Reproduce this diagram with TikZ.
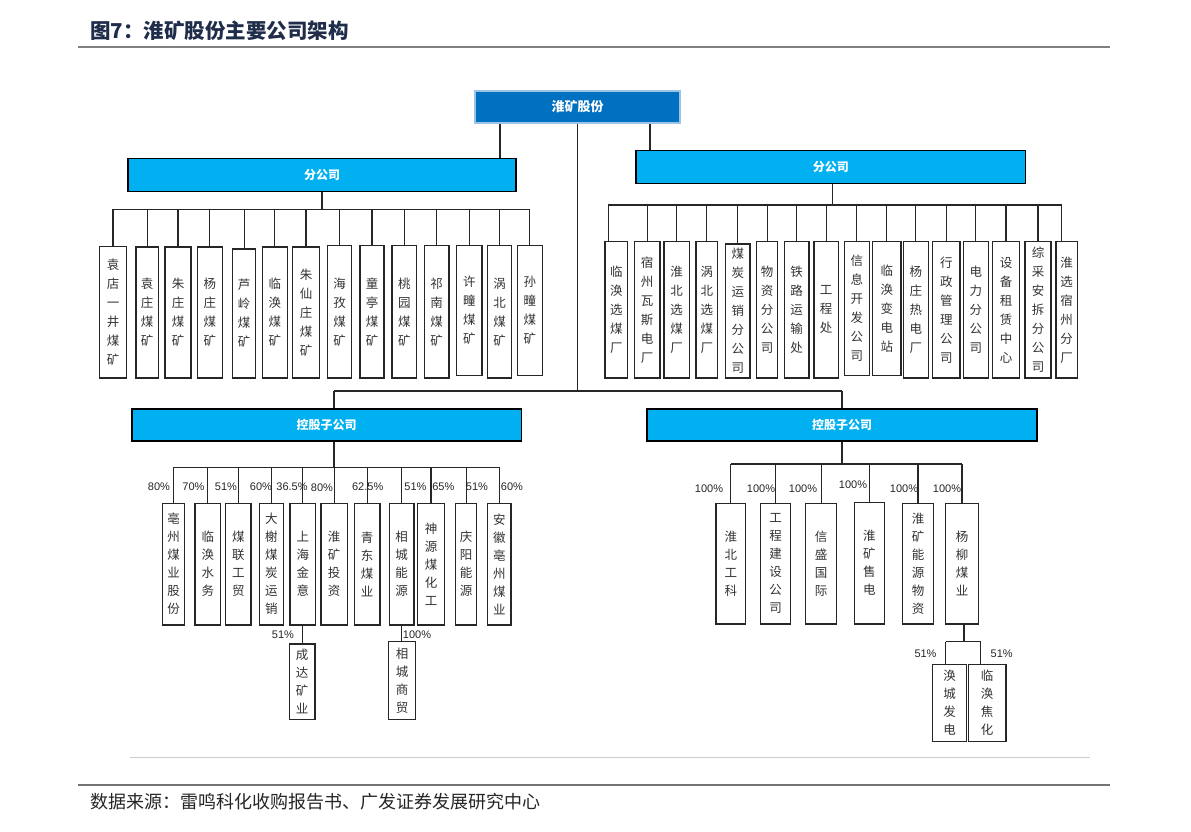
\documentclass[tikz,border=0pt]{standalone}
\usepackage{fontspec}
\setmainfont{Noto Sans CJK SC}
\newfontfamily\pctfont{Liberation Sans}
\definecolor{cyanbox}{HTML}{00B0F0}
\definecolor{topblue}{HTML}{0070C0}
\definecolor{topedge}{HTML}{9DC3E6}
\definecolor{titleblue}{HTML}{1F2D4A}
\tikzset{
  conn/.style={draw=black!85, line width=1.2pt},
  wbox/.style={draw=black!85, line width=1.3pt, fill=white, inner sep=0pt, align=center,
    font=\fontsize{12.5}{19}\selectfont, text=black!80},
  kbox/.style={wbox, font=\fontsize{12.5}{18}\selectfont},
  bbox/.style={draw=black, line width=1.2pt, fill=cyanbox, inner sep=0pt,
    font=\bfseries\fontsize{12}{14}\selectfont, text=white},
  topbox/.style={draw=topedge, line width=1.2pt, fill=topblue, inner sep=0pt,
    font=\bfseries\fontsize{13}{15}\selectfont, text=white},
  pct/.style={font=\pctfont\fontsize{11}{12}\selectfont, inner sep=0pt, text=black!85},
}
\newcommand\bx[7][wbox]{\node[#1, minimum width={(#4-#3)*1pt}, minimum height={(#6-#5)*1pt}] (#2) at ({(#3+#4)/2},{(#5+#6)/2}) {#7};}
\begin{document}
\begin{tikzpicture}[x=1pt,y=-1pt]
\useasboundingbox[fill=white] (0,0) rectangle (1191,832);

% title
\node[anchor=west, inner sep=0pt, text=titleblue, font=\bfseries\fontsize{20.5}{22}\selectfont] (title) at (90,31) {图7：淮矿股份主要公司架构};
\coordinate (tl1) at (78,47); \coordinate (tl2) at (1110,47);
\draw[draw=black!50, line width=2pt] (tl1) -- (tl2);

% top-level boxes
\bx[topbox]{top}{475}{680}{91}{123}{淮矿股份}
\bx[bbox]{fgL}{128}{516}{158.3}{191.7}{分公司}
\bx[bbox]{fgR}{636}{1025.7}{150.7}{183.3}{分公司}
\bx[bbox]{kzL}{132}{521.4}{409}{441}{控股子公司}
\bx[bbox]{kzR}{647}{1037}{409}{441}{控股子公司}

% left branch offices
\bx{a1}{99.3}{126.7}{246.7}{378}{袁\\店\\一\\井\\煤\\矿}
\bx{a2}{136}{158.3}{247}{378}{袁\\庄\\煤\\矿}
\bx{a3}{165}{191}{247}{378}{朱\\庄\\煤\\矿}
\bx{a4}{197.3}{222.3}{247}{378}{杨\\庄\\煤\\矿}
\bx{a5}{232.7}{255.7}{249}{378}{芦\\岭\\煤\\矿}
\bx{a6}{262.3}{287.3}{247}{378}{临\\涣\\煤\\矿}
\bx{a7}{292.7}{319.3}{247}{378}{朱\\仙\\庄\\煤\\矿}
\bx{a8}{327.7}{351.7}{245.7}{378}{海\\孜\\煤\\矿}
\bx{a9}{360}{384}{245.7}{378}{童\\亭\\煤\\矿}
\bx{a10}{392}{416.7}{245.7}{378}{桃\\园\\煤\\矿}
\bx{a11}{424.3}{449}{245.7}{378}{祁\\南\\煤\\矿}
\bx{a12}{456.7}{482}{245.7}{375.7}{许\\疃\\煤\\矿}
\bx{a13}{487.3}{511.7}{245.7}{378}{涡\\北\\煤\\矿}
\bx{a14}{517.3}{542.3}{245.7}{375.7}{孙\\疃\\煤\\矿}

% right branch offices
\bx{b1}{605}{627.7}{241.7}{378}{临\\涣\\选\\煤\\厂}
\bx{b2}{634.3}{660}{241.7}{378}{宿\\州\\瓦\\斯\\电\\厂}
\bx{b3}{664}{689.3}{241.7}{378}{淮\\北\\选\\煤\\厂}
\bx{b4}{696}{717.7}{241.7}{378}{涡\\北\\选\\煤\\厂}
\bx{b5}{725.7}{750}{244}{378}{煤\\炭\\运\\销\\分\\公\\司}
\bx{b6}{756.7}{777.7}{241.7}{378}{物\\资\\分\\公\\司}
\bx{b7}{784.3}{809}{241.7}{378}{铁\\路\\运\\输\\处}
\bx{b8}{814}{838.3}{241.7}{378}{工\\程\\处}
\bx{b9}{844.3}{869.3}{241.7}{375.7}{信\\息\\开\\发\\公\\司}
\bx{b10}{872.7}{901}{241.7}{375.7}{临\\涣\\变\\电\\站}
\bx{b11}{903.3}{928.3}{241.7}{378}{杨\\庄\\热\\电\\厂}
\bx{b12}{932.7}{960}{241.7}{378}{行\\政\\管\\理\\公\\司}
\bx{b13}{963.3}{988.3}{241.7}{378}{电\\力\\分\\公\\司}
\bx{b14}{992.7}{1019.3}{241.7}{378}{设\\备\\租\\赁\\中\\心}
\bx{b15}{1025}{1051}{241.7}{378}{综\\采\\安\\拆\\分\\公\\司}
\bx{b16}{1056}{1077.3}{241.7}{378}{淮\\选\\宿\\州\\分\\厂}

% left holding subsidiaries
\bx[kbox]{c1}{162.7}{184.3}{503.3}{625}{亳\\州\\煤\\业\\股\\份}
\bx[kbox]{c2}{195}{220.7}{503.3}{625}{临\\涣\\水\\务}
\bx[kbox]{c3}{225.7}{251}{503.3}{625}{煤\\联\\工\\贸}
\bx[kbox]{c4}{259.3}{283.3}{503.3}{625}{大\\榭\\煤\\炭\\运\\销}
\bx[kbox]{c5}{290}{315.7}{503.3}{625}{上\\海\\金\\意}
\bx[kbox]{c6}{321}{347.3}{503.3}{625}{淮\\矿\\投\\资}
\bx[kbox]{c7}{354.3}{380}{503.3}{625}{青\\东\\煤\\业}
\bx[kbox]{c8}{389.3}{414}{503.3}{625}{相\\城\\能\\源}
\bx[kbox]{c9}{417.7}{444.3}{503.3}{625}{神\\源\\煤\\化\\工}
\bx[kbox]{c10}{455.7}{476.7}{503.3}{625}{庆\\阳\\能\\源}
\bx[kbox]{c11}{487.7}{511}{503.3}{625}{安\\徽\\亳\\州\\煤\\业}
\bx[kbox]{d1}{289.3}{315}{644}{719.3}{成\\达\\矿\\业}
\bx[kbox]{d2}{388.3}{415.7}{641.7}{719.3}{相\\城\\商\\贸}

% right holding subsidiaries
\bx[kbox]{e1}{716}{745.7}{503.3}{624}{淮\\北\\工\\科}
\bx[kbox]{e2}{760.7}{790.7}{503.3}{624}{工\\程\\建\\设\\公\\司}
\bx[kbox]{e3}{805.7}{836.7}{503.3}{624}{信\\盛\\国\\际}
\bx[kbox]{e4}{854.3}{884.3}{502.3}{624}{淮\\矿\\售\\电}
\bx[kbox]{e5}{902.7}{933.3}{503.3}{624}{淮\\矿\\能\\源\\物\\资}
\bx[kbox]{e6}{945.7}{978.3}{503.3}{624}{杨\\柳\\煤\\业}
\bx[kbox]{f1}{932.7}{966.7}{664.3}{741.7}{涣\\城\\发\\电}
\bx[kbox]{f2}{968.3}{1006}{664.3}{741.7}{临\\涣\\焦\\化}

% connectors: top level
\coordinate (hL) at (334,391);
\coordinate (hR) at (842,391);
\draw[conn] ([xshift=-77.5pt]top.south) -- ([xshift=-77.5pt]top.south |- fgL.north);
\draw[conn] ([xshift=72.5pt]top.south) -- ([xshift=72.5pt]top.south |- fgR.north);
\draw[conn] (top.south) -- (top.south |- hL);
\draw[conn] (hL) -- (hR);
\draw[conn] (hL) -- (hL |- kzL.north);
\draw[conn] (hR) -- (hR |- kzR.north);

% left branch office bus
\coordinate (busA) at (0,209.3);
\draw[conn] (fgL.south) -- (fgL.south |- busA);
\draw[conn] (a1.north |- busA) -- (a14.north |- busA);
\foreach \n in {a1,a2,a3,a4,a5,a6,a7,a8,a9,a10,a11,a12,a13,a14}
  \draw[conn] (\n.north |- busA) -- (\n.north);

% right branch office bus
\coordinate (busB) at (0,205);
\draw[conn] ([xshift=1.8pt]fgR.south) -- ([xshift=1.8pt]fgR.south |- busB);
\draw[conn] ([xshift=-8pt]b1.north |- busB) -- ([xshift=-5pt]b16.north |- busB);
\draw[conn] ([xshift=-8pt]b1.north |- busB) -- ([xshift=-8pt]b1.north);
\draw[conn] ([xshift=-5pt]b16.north |- busB) -- ([xshift=-5pt]b16.north);
\foreach \n in {b2,b3,b4,b5,b6,b7,b8,b9,b10,b11,b12,b13,b14,b15}
  \draw[conn] (\n.north |- busB) -- (\n.north);

% left holding bus
\coordinate (busC) at (0,467.3);
\draw[conn] (hL |- kzL.south) -- (hL |- busC);
\draw[conn] (c1.north |- busC) -- (c11.north |- busC);
\foreach \n in {c1,c2,c3,c4,c5,c6,c7,c8,c9,c10,c11}
  \draw[conn] (\n.north |- busC) -- (\n.north);
\draw[conn] (c5.south) -- (c5.south |- d1.north);
\draw[conn] (c8.south) -- (c8.south |- d2.north);

% right holding bus
\coordinate (busD) at (0,464);
\draw[conn] (hR |- kzR.south) -- (hR |- busD);
\draw[conn] (e1.north |- busD) -- (e6.north |- busD);
\foreach \n in {e1,e2,e3,e4,e5,e6}
  \draw[conn] (\n.north |- busD) -- (\n.north);
\coordinate (busE) at (0,641.7);
\draw[conn] ([xshift=2pt]e6.south) -- ([xshift=2pt]e6.south |- busE);
\draw[conn] ([xshift=-4pt]f1.north |- busE) -- ([xshift=-6.3pt]f2.north |- busE);
\draw[conn] ([xshift=-4pt]f1.north |- busE) -- ([xshift=-4pt]f1.north);
\draw[conn] ([xshift=-6.3pt]f2.north |- busE) -- ([xshift=-6.3pt]f2.north);

% percentages
\node[pct] (p1) at (159,487) {80\%};
\node[pct] (p2) at (193.5,487) {70\%};
\node[pct] (p3) at (226,487) {51\%};
\node[pct] (p4) at (261,487) {60\%};
\node[pct] (p5) at (292,487) {36.5\%};
\node[pct] (p6) at (322,488) {80\%};
\node[pct] (p7) at (367.7,487) {62.5\%};
\node[pct] (p8) at (415.5,487) {51\%};
\node[pct] (p9) at (443.3,487) {65\%};
\node[pct] (p10) at (477,487) {51\%};
\node[pct] (p11) at (512,487) {60\%};
\node[pct] (p12) at (283,635) {51\%};
\node[pct] (p13) at (417,635) {100\%};
\node[pct] (q1) at (709,489) {100\%};
\node[pct] (q2) at (761,489) {100\%};
\node[pct] (q3) at (803,489) {100\%};
\node[pct] (q4) at (853,485) {100\%};
\node[pct] (q5) at (904,489) {100\%};
\node[pct] (q6) at (947,489) {100\%};
\node[pct] (q7) at (925.5,654) {51\%};
\node[pct] (q8) at (1001.7,654) {51\%};

% footer
\coordinate (fl0a) at (130,757); \coordinate (fl0b) at (1090,757);
\draw[draw=black!20, line width=1pt] (fl0a) -- (fl0b);
\coordinate (fl1) at (78,785); \coordinate (fl2) at (1110,785);
\draw[draw=black!55, line width=1.5pt] (fl1) -- (fl2);
\node[anchor=west, inner sep=0pt, text=black!85, font=\fontsize{18}{20}\selectfont] (src) at (90,802) {数据来源：雷鸣科化收购报告书、广发证券发展研究中心};
\end{tikzpicture}
\end{document}
